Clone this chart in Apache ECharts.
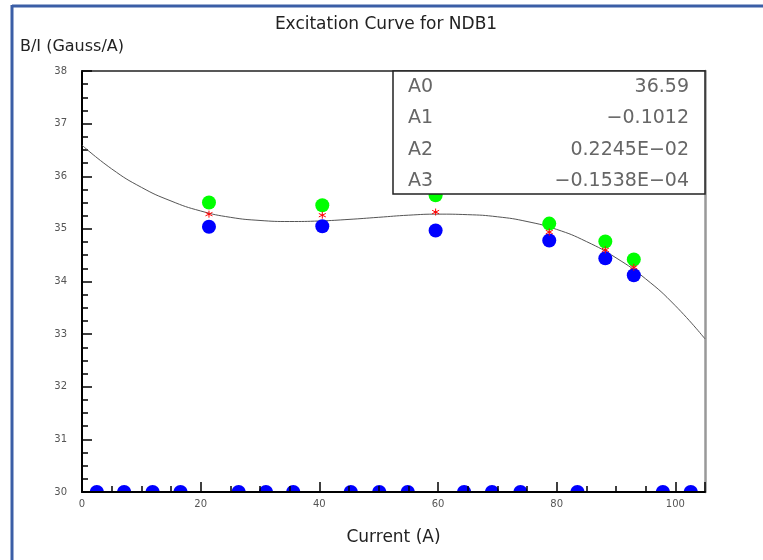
<!DOCTYPE html>
<html>
<head>
<meta charset="utf-8">
<script src="https://cdn.jsdelivr.net/npm/echarts@6/dist/echarts.min.js"></script>
<style>html,body{margin:0;padding:0;background:#fff;}#c{width:763px;height:560px;}</style>
</head>
<body>
<div id="c"></div>
<script>
// measured points (two sets) and averaged points
const measX = [21.4, 40.5, 59.6, 78.75, 88.2, 93.0];
const blueY = [35.04, 35.05, 34.97, 34.78, 34.44, 34.12];
const greenY = [35.50, 35.45, 35.64, 35.10, 34.76, 34.42];
const redY = [35.28, 35.26, 35.32, 34.94, 34.60, 34.27];
// points lying at the bottom edge (y = 30)
const bottomX = [2.5, 7.1, 11.9, 16.6, 26.4, 31.0, 35.6, 45.3, 50.1, 54.9, 64.4, 69.1, 73.9, 83.5, 97.9, 102.6];
const bottomY = 30;
// fit curve
const curveX = [0, 5, 10, 15, 20, 25, 30, 35, 40, 45, 50, 55, 60, 65, 70, 75, 80, 85, 90, 95, 100, 105];
const curveY = [36.59, 36.14, 35.79, 35.53, 35.34, 35.22, 35.16, 35.14, 35.15, 35.18, 35.22, 35.26, 35.28, 35.27, 35.23, 35.14, 34.99, 34.76, 34.45, 34.05, 33.54, 32.91];
// fit parameters
const parNames = ['A0', 'A1', 'A2', 'A3'];
const parValues = ['36.59', '\u22120.1012', '0.2245E\u221202', '\u22120.1538E\u221204'];
const xTicks = [0, 20, 40, 60, 80, 100];

const pair = (xs, ys) => xs.map((x, i) => [x, Array.isArray(ys) ? ys[i] : ys]);

const chart = echarts.init(document.getElementById('c'), null, {renderer: 'canvas'});
const F = 'DejaVu Sans';
const gridL = 82, gridT = 71, gridW = 623, gridH = 421;

const statsGraphics = [];
parNames.forEach((n, i) => {
  const cy = 87 + i * 31.3;
  statsGraphics.push({type: 'text', z: 101, style: {text: n, x: 408, y: cy, font: '19px ' + F, fill: '#666', textVerticalAlign: 'middle', textAlign: 'left'}});
  statsGraphics.push({type: 'text', z: 101, style: {text: parValues[i], x: 689, y: cy, font: '19px ' + F, fill: '#666', textVerticalAlign: 'middle', textAlign: 'right'}});
});

const halfDisc = 'path://M-10,0C-10,-5.523,-5.523,-10,0,-10C5.523,-10,10,-5.523,10,0Z';

chart.setOption({
  animation: false,
  backgroundColor: '#fff',
  title: [
    {text: 'Excitation Curve for NDB1', left: 381, top: 11, textAlign: 'center',
      textStyle: {fontFamily: F, fontSize: 17, fontWeight: 'normal', color: '#222'}},
    {text: 'B/I (Gauss/A)', left: 15, top: 34,
      textStyle: {fontFamily: F, fontSize: 16, fontWeight: 'normal', color: '#222'}}
  ],
  grid: {left: gridL, top: gridT, width: gridW, height: gridH, containLabel: false},
  xAxis: [
    {type: 'value', min: 0, max: 105, interval: 20, position: 'bottom',
      name: 'Current (A)', nameLocation: 'middle', nameGap: 37,
      nameTextStyle: {fontFamily: F, fontSize: 17, color: '#222'},
      axisLine: {show: true, onZero: false, lineStyle: {color: '#000', width: 2}},
      axisTick: {show: true, inside: true, length: 10, lineStyle: {color: '#000', width: 1.5}},
      axisLabel: {show: true, fontFamily: F, fontSize: 10, color: '#555', margin: 7,
        formatter: v => xTicks.indexOf(v) >= 0 ? String(v) : ''},
      splitLine: {show: false}, z: 10},
    {type: 'value', min: 0, max: 105, interval: 5, position: 'bottom',
      axisLine: {show: false, onZero: false},
      axisTick: {show: true, inside: true, length: 6, lineStyle: {color: '#000', width: 1.5}},
      axisLabel: {show: false}, splitLine: {show: false}, z: 10},
    {type: 'value', min: 0, max: 105, position: 'top',
      axisLine: {show: true, onZero: false, lineStyle: {color: '#222', width: 1.5}},
      axisTick: {show: false}, axisLabel: {show: false}, splitLine: {show: false}}
  ],
  yAxis: [
    {type: 'value', min: 30, max: 38, interval: 1, position: 'left',
      axisLine: {show: true, onZero: false, lineStyle: {color: '#000', width: 2}},
      axisTick: {show: true, inside: true, length: 10, lineStyle: {color: '#000', width: 1.5}},
      minorTick: {show: true, splitNumber: 4, length: 6, lineStyle: {color: '#000', width: 1.5}},
      axisLabel: {show: true, fontFamily: F, fontSize: 10, color: '#555', margin: 15},
      splitLine: {show: false}, minorSplitLine: {show: false}},
    {type: 'value', min: 30, max: 38, position: 'right',
      axisLine: {show: true, onZero: false, lineStyle: {color: '#999', width: 2.5}},
      axisTick: {show: false}, axisLabel: {show: false}, splitLine: {show: false}}
  ],
  series: [
    {type: 'line', xAxisIndex: 0, yAxisIndex: 0, data: pair(curveX, curveY), smooth: true,
      showSymbol: false, symbol: 'none', lineStyle: {color: '#555', width: 1}, z: 2, clip: true},
    {type: 'scatter', xAxisIndex: 0, yAxisIndex: 0, data: pair(measX, blueY), symbol: 'circle', symbolSize: 14,
      itemStyle: {color: '#0000ff', opacity: 1}, z: 3, clip: true},
    {type: 'scatter', xAxisIndex: 0, yAxisIndex: 0, data: pair(bottomX, bottomY), symbol: halfDisc,
      symbolSize: [14, 7], symbolOffset: [0, -3.5], symbolKeepAspect: false,
      itemStyle: {color: '#0000ff', opacity: 1}, z: 3, clip: true},
    {type: 'scatter', xAxisIndex: 0, yAxisIndex: 0, data: pair(measX, greenY), symbol: 'circle', symbolSize: 14,
      itemStyle: {color: '#00ff00', opacity: 1}, z: 4, clip: true},
    {type: 'scatter', xAxisIndex: 0, yAxisIndex: 0, data: pair(measX, redY),
      symbol: 'path://M0,-10L0,10M-8.66,-5L8.66,5M-8.66,5L8.66,-5', symbolSize: 7,
      itemStyle: {color: 'none', borderColor: '#ff0000', borderWidth: 1, opacity: 1}, z: 5, clip: true}
  ],
  graphic: [
    {type: 'rect', z: 100, shape: {x: 393, y: 71, width: 312, height: 123},
      style: {fill: '#fff', stroke: '#222', lineWidth: 1.5}},
    ...statsGraphics,
    {type: 'line', z: 100, shape: {x1: 12, y1: 6, x2: 763, y2: 6}, style: {stroke: '#3b5ea6', lineWidth: 3}},
    {type: 'line', z: 100, shape: {x1: 12, y1: 5, x2: 12, y2: 560}, style: {stroke: '#3b5ea6', lineWidth: 3}}
  ]
});
</script>
</body>
</html>
